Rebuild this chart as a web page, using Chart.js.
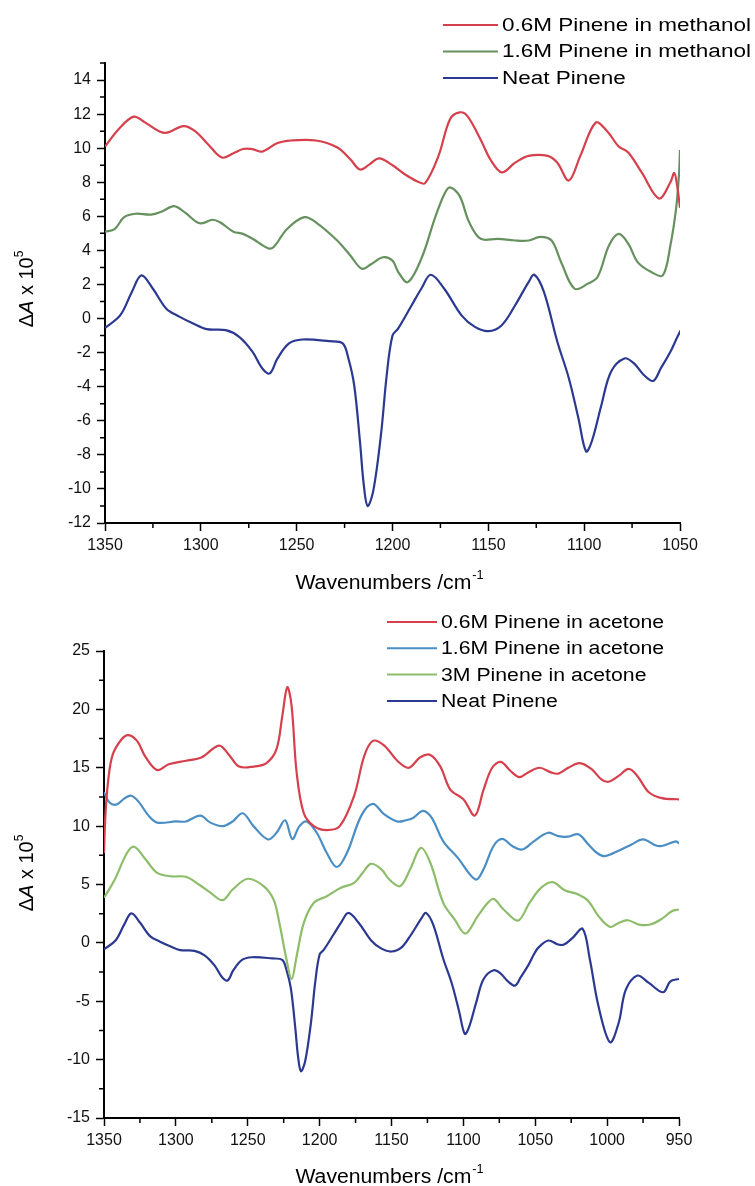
<!DOCTYPE html>
<html lang="en">
<head>
<meta charset="UTF-8" />
<title>Pinene difference spectra</title>
<script src="https://cdn.jsdelivr.net/npm/chart.js"></script>
<style>
  html, body { margin: 0; padding: 0; background: #fff; }
  .chart-box { position: relative; width: 755px; }
  #topBox { height: 595px; }
  #bottomBox { height: 591px; }
</style>
</head>
<body>

<div class="chart-box" id="topBox"><canvas id="methanolChart"></canvas></div>
<div class="chart-box" id="bottomBox"><canvas id="acetoneChart"></canvas></div>

<script>
  const FONT = '"Liberation Sans", Arial, sans-serif';

  // ---- top panel: pinene in methanol ----
  const methXTicks = [1350, 1300, 1250, 1200, 1150, 1100, 1050];
  const methYTicks = [-12, -10, -8, -6, -4, -2, 0, 2, 4, 6, 8, 10, 12, 14];

  const meth06_x = [1350, 1343, 1335, 1329, 1319, 1309, 1303, 1296, 1289, 1283, 1278, 1273, 1268, 1260, 1253, 1240, 1229, 1222, 1217, 1212, 1207, 1200, 1194, 1187, 1183, 1176, 1170, 1165, 1161, 1154, 1149, 1143, 1136, 1129, 1119, 1114, 1108, 1102, 1094, 1088, 1082, 1077, 1070, 1061, 1055, 1053, 1051.5, 1050];
  const meth06_y = [10.1, 11.1, 11.85, 11.5, 10.9, 11.3, 11.0, 10.2, 9.45, 9.7, 9.95, 9.95, 9.8, 10.3, 10.45, 10.45, 10.05, 9.35, 8.75, 9.05, 9.4, 9.0, 8.5, 8.05, 7.95, 9.55, 11.7, 12.1, 11.9, 10.5, 9.35, 8.58, 9.15, 9.55, 9.55, 9.15, 8.1, 9.55, 11.5, 11.0, 10.1, 9.75, 8.58, 7.05, 8.0, 8.55, 7.8, 6.5];

  const meth16_x = [1350, 1345, 1340, 1334, 1326, 1320, 1314, 1308, 1302, 1299, 1294, 1290, 1283, 1278, 1273, 1265, 1262, 1255, 1246, 1240, 1229, 1222, 1216, 1211, 1205, 1200, 1197, 1192, 1185, 1178, 1173, 1170, 1165, 1160, 1154, 1145, 1136, 1129, 1123, 1117, 1112, 1105, 1098, 1093, 1087, 1082, 1077, 1072, 1065, 1059, 1055, 1052, 1050.5, 1050];
  const meth16_y = [5.1, 5.25, 5.95, 6.15, 6.1, 6.3, 6.6, 6.2, 5.65, 5.6, 5.8, 5.65, 5.1, 4.97, 4.68, 4.13, 4.2, 5.26, 5.95, 5.65, 4.6, 3.7, 2.92, 3.2, 3.6, 3.4, 2.73, 2.14, 3.5, 5.85, 7.3, 7.7, 7.2, 5.65, 4.68, 4.68, 4.58, 4.58, 4.8, 4.58, 3.3, 1.75, 2.05, 2.44, 4.3, 4.97, 4.4, 3.3, 2.73, 2.53, 4.3, 6.5, 8.5, 9.9];

  // neat pinene appears in both panels (same spectrum)
  const neat_x = [1350, 1342, 1336, 1331, 1325, 1318, 1311, 1304, 1297, 1287, 1280, 1273, 1268, 1264, 1260, 1254, 1247, 1233, 1226, 1223, 1220, 1217, 1215, 1213, 1210, 1206, 1203, 1200, 1197, 1190, 1185, 1180, 1173, 1164, 1157, 1150, 1143, 1136, 1129, 1126, 1121, 1114, 1108, 1103, 1099, 1096, 1091, 1086, 1079, 1074, 1069, 1064, 1060, 1055, 1051, 1048, 1041, 1034, 1030, 1024, 1017, 1012, 1006, 998, 992, 987, 979, 971, 961, 956, 950];
  const neat_y = [-0.55, 0.2, 1.56, 2.53, 1.75, 0.58, 0.1, -0.29, -0.62, -0.68, -1.07, -1.95, -2.92, -3.22, -2.34, -1.46, -1.23, -1.33, -1.46, -2.34, -3.9, -7.2, -9.75, -11.0, -10.1, -6.8, -3.3, -1.0, -0.58, 0.78, 1.75, 2.57, 1.75, 0.19, -0.49, -0.74, -0.39, 0.78, 2.14, 2.57, 1.56, -1.36, -3.5, -5.85, -7.8, -7.2, -5.07, -3.12, -2.34, -2.63, -3.3, -3.66, -2.92, -1.95, -1.0, -0.43, 0.2, -0.14, -0.14, 0.43, 1.2, -1.43, -5.43, -8.51, -6.86, -4.0, -2.8, -3.43, -4.23, -3.29, -3.09];

  // ---- bottom panel: pinene in acetone ----
  const aceXTicks = [1350, 1300, 1250, 1200, 1150, 1100, 1050, 1000, 950];
  const aceYTicks = [-15, -10, -5, 0, 5, 10, 15, 20, 25];

  const ace06_x = [1350, 1349, 1347, 1344, 1338, 1333, 1327, 1321, 1313, 1305, 1293, 1282, 1270, 1263, 1256, 1246, 1237, 1230, 1226, 1222.5, 1219.5, 1216, 1211, 1204, 1195, 1186, 1176, 1169, 1163, 1155, 1146, 1138, 1130, 1123, 1116, 1109, 1100, 1092, 1086, 1080, 1074, 1067, 1061, 1055, 1047, 1039, 1034, 1027, 1019, 1011, 1004, 999, 992, 985, 979, 971, 962, 951, 950];
  const ace06_y = [7.7, 11.0, 14.0, 16.1, 17.4, 17.8, 17.3, 15.9, 14.8, 15.3, 15.6, 15.9, 16.9, 16.1, 15.1, 15.1, 15.4, 16.6, 19.4, 21.9, 20.3, 14.6, 11.1, 10.0, 9.66, 10.0, 12.6, 16.0, 17.3, 16.9, 15.6, 15.0, 15.9, 16.1, 15.1, 13.1, 12.3, 10.9, 13.1, 15.0, 15.5, 14.7, 14.2, 14.6, 15.0, 14.6, 14.5, 15.0, 15.4, 14.9, 14.0, 13.8, 14.3, 14.9, 14.3, 12.9, 12.4, 12.3, 12.3];

  const ace16_x = [1350, 1346, 1341, 1335.5, 1331, 1326, 1319, 1313, 1300, 1293, 1283, 1276, 1267.5, 1260.5, 1253.5, 1246, 1236, 1230, 1224, 1219, 1214, 1209, 1202, 1195, 1188, 1181, 1171, 1163, 1155, 1146, 1140, 1135, 1128, 1122, 1114, 1104, 1091.5, 1086, 1079, 1073, 1066, 1059, 1051, 1041, 1034, 1027, 1020, 1013, 1007, 1001.5, 992, 983, 975, 966, 962, 952, 950];
  const ace16_y = [12.9, 12.0, 11.86, 12.4, 12.6, 12.1, 10.9, 10.3, 10.4, 10.4, 10.9, 10.3, 10.0, 10.4, 11.1, 10.0, 8.86, 9.43, 10.5, 8.9, 10.0, 10.4, 9.43, 7.7, 6.5, 7.7, 10.9, 11.9, 11.0, 10.4, 10.5, 10.7, 11.3, 10.7, 8.7, 7.3, 5.43, 6.3, 8.3, 8.9, 8.3, 8.0, 8.7, 9.43, 9.14, 9.1, 9.3, 8.43, 7.7, 7.43, 7.9, 8.43, 8.86, 8.34, 8.3, 8.7, 8.5];

  const ace3_x = [1350, 1342.5, 1334, 1329, 1321, 1313, 1303, 1293, 1284, 1276, 1267.5, 1260.5, 1250, 1239, 1232, 1228, 1223.5, 1219.5, 1216, 1211, 1204, 1195, 1185.5, 1176, 1170, 1164.4, 1157, 1151.5, 1144, 1137, 1129.6, 1123, 1114, 1106, 1098.5, 1090, 1083, 1079, 1072, 1062, 1054, 1046, 1038, 1029.5, 1020, 1013, 1006, 998, 992, 985.6, 978, 970, 962, 955, 950];
  const ace3_y = [3.86, 5.43, 7.7, 8.23, 7.14, 6.0, 5.7, 5.66, 5.0, 4.3, 3.66, 4.57, 5.49, 4.86, 3.7, 1.71, -1.14, -3.1, -1.14, 1.71, 3.43, 4.0, 4.7, 5.14, 6.0, 6.77, 6.3, 5.43, 4.86, 6.3, 8.14, 6.86, 3.43, 2.0, 0.8, 2.29, 3.43, 3.77, 2.86, 1.91, 3.43, 4.71, 5.2, 4.51, 4.14, 3.57, 2.29, 1.37, 1.71, 1.94, 1.57, 1.57, 2.06, 2.71, 2.86];

  const pts = (xs, ys) => xs.map((x, i) => ({ x: x, y: ys[i] }));

  // minor ticks, legend and the two axis titles
  const decor = {
    id: 'decor',
    afterDraw(chart, args, o) {
      const ctx = chart.ctx;
      const xs = chart.scales.x, ys = chart.scales.y, area = chart.chartArea;
      ctx.save();

      // minor ticks
      ctx.strokeStyle = '#000';
      ctx.lineWidth = 1.5;
      ctx.beginPath();
      for (let v = xs.min + o.minorX; v < xs.max; v += 2 * o.minorX) {
        const px = xs.getPixelForValue(v);
        ctx.moveTo(px, area.bottom);
        ctx.lineTo(px, area.bottom + 5);
      }
      for (let v = ys.min + o.minorY; v <= ys.max; v += 2 * o.minorY) {
        const py = ys.getPixelForValue(v);
        ctx.moveTo(area.left, py);
        ctx.lineTo(area.left - 5, py);
      }
      ctx.stroke();

      // legend
      const lg = o.legend;
      ctx.font = '18px ' + FONT;
      ctx.textBaseline = 'middle';
      ctx.textAlign = 'left';
      chart.data.datasets.forEach((ds, i) => {
        const y = lg.y + i * lg.dy;
        ctx.strokeStyle = ds.borderColor;
        ctx.lineWidth = 2;
        ctx.beginPath();
        ctx.moveTo(lg.x, y);
        ctx.lineTo(lg.x + lg.len, y);
        ctx.stroke();
        ctx.save();
        ctx.translate(lg.x + lg.len + 4, y + 1);
        ctx.scale(lg.sx, 1);
        ctx.fillStyle = '#000';
        ctx.fillText(ds.label, 0, 0);
        ctx.restore();
      });

      // x title: Wavenumbers /cm^-1
      ctx.fillStyle = '#000';
      ctx.textBaseline = 'alphabetic';
      ctx.font = '20px ' + FONT;
      const main = 'Wavenumbers /cm';
      const mw = ctx.measureText(main).width;
      ctx.font = '12px ' + FONT;
      const sw = ctx.measureText('-1').width;
      ctx.save();
      ctx.translate(o.xTitle.cx - (mw + sw) * 1.06 / 2, o.xTitle.y);
      ctx.scale(1.06, 1);
      ctx.font = '20px ' + FONT;
      ctx.fillText(main, 0, 0);
      ctx.font = '12px ' + FONT;
      ctx.fillText('-1', mw + 1, -10);
      ctx.restore();

      // y title: ΔA x 10^5 (rotated)
      const parts = [
        { t: '\u0394', f: '20px ' + FONT, dy: 0 },
        { t: 'A', f: 'italic 20px ' + FONT, dy: 0 },
        { t: ' x 10', f: '20px ' + FONT, dy: 0 },
        { t: '5', f: '12px ' + FONT, dy: -10 }
      ];
      let total = 0;
      parts.forEach(p => { ctx.font = p.f; p.w = ctx.measureText(p.t).width; total += p.w; });
      ctx.translate(o.yTitle.x, o.yTitle.cy);
      ctx.rotate(-Math.PI / 2);
      let cx = -total / 2;
      parts.forEach(p => {
        ctx.font = p.f;
        ctx.fillText(p.t, cx, p.dy);
        cx += p.w;
      });
      ctx.restore();
    }
  };

  function makeChart(id, datasets, cfg) {
    return new Chart(document.getElementById(id), {
      type: 'line',
      data: { datasets: datasets },
      options: {
        responsive: true,
        maintainAspectRatio: false,
        animation: false,
        layout: { padding: { left: 0, right: cfg.padRight, top: cfg.padTop, bottom: 0 } },
        elements: {
          point: { radius: 0 },
          line: { borderWidth: 2.2, tension: 0.35 }
        },
        plugins: {
          legend: { display: false },
          tooltip: { enabled: false },
          decor: cfg.decor
        },
        scales: {
          x: {
            type: 'linear',
            reverse: true,
            min: cfg.xMin,
            max: cfg.xMax,
            afterBuildTicks: s => { s.ticks = cfg.xTicks.map(v => ({ value: v })); },
            afterFit: s => { s.height = cfg.xHeight; },
            border: { color: '#000', width: 2 },
            grid: { drawOnChartArea: false, drawTicks: true, tickLength: 8, tickWidth: 1.5, tickColor: '#000' },
            ticks: {
              color: '#111',
              font: { size: 16, family: FONT },
              padding: 5,
              maxRotation: 0,
              autoSkip: false,
              callback: v => String(v)
            }
          },
          y: {
            min: cfg.yMin,
            max: cfg.yMax,
            afterBuildTicks: s => { s.ticks = cfg.yTicks.map(v => ({ value: v })); },
            afterFit: s => { s.width = cfg.yWidth; },
            border: { color: '#000', width: 2 },
            grid: { drawOnChartArea: false, drawTicks: true, tickLength: 8, tickWidth: 1.5, tickColor: '#000' },
            ticks: {
              color: '#111',
              font: { size: 16, family: FONT },
              padding: 6,
              callback: v => String(v)
            }
          }
        }
      },
      plugins: [decor]
    });
  }

  const methanolChart = makeChart('methanolChart', [
    { label: '0.6M Pinene in methanol', data: pts(meth06_x, meth06_y), borderColor: '#d5404c' },
    { label: '1.6M Pinene in methanol', data: pts(meth16_x, meth16_y), borderColor: '#66915f' },
    { label: 'Neat Pinene', data: pts(neat_x, neat_y), borderColor: '#2b3990' }
  ], {
    xMin: 1050, xMax: 1350, xTicks: methXTicks, xHeight: 72,
    yMin: -12, yMax: 15, yTicks: methYTicks, yWidth: 105,
    padRight: 75, padTop: 63,
    decor: {
      minorX: 25, minorY: 1,
      legend: { x: 443, y: 25, dy: 26.5, len: 55, sx: 1.25 },
      xTitle: { cx: 389, y: 589 },
      yTitle: { x: 33, cy: 289 }
    }
  });

  const acetoneChart = makeChart('acetoneChart', [
    { label: '0.6M Pinene in acetone', data: pts(ace06_x, ace06_y), borderColor: '#d5404c' },
    { label: '1.6M Pinene in acetone', data: pts(ace16_x, ace16_y), borderColor: '#4a8ec4' },
    { label: '3M Pinene in acetone', data: pts(ace3_x, ace3_y), borderColor: '#8dbd6a' },
    { label: 'Neat Pinene', data: pts(neat_x, neat_y), borderColor: '#2b3990' }
  ], {
    xMin: 950, xMax: 1350, xTicks: aceXTicks, xHeight: 68,
    yMin: -15, yMax: 25, yTicks: aceYTicks, yWidth: 104,
    padRight: 76, padTop: 56,
    decor: {
      minorX: 25, minorY: 2.5,
      legend: { x: 387, y: 27, dy: 26.3, len: 50, sx: 1.18 },
      xTitle: { cx: 389, y: 588 },
      yTitle: { x: 33, cy: 278 }
    }
  });
</script>
</body>
</html>
